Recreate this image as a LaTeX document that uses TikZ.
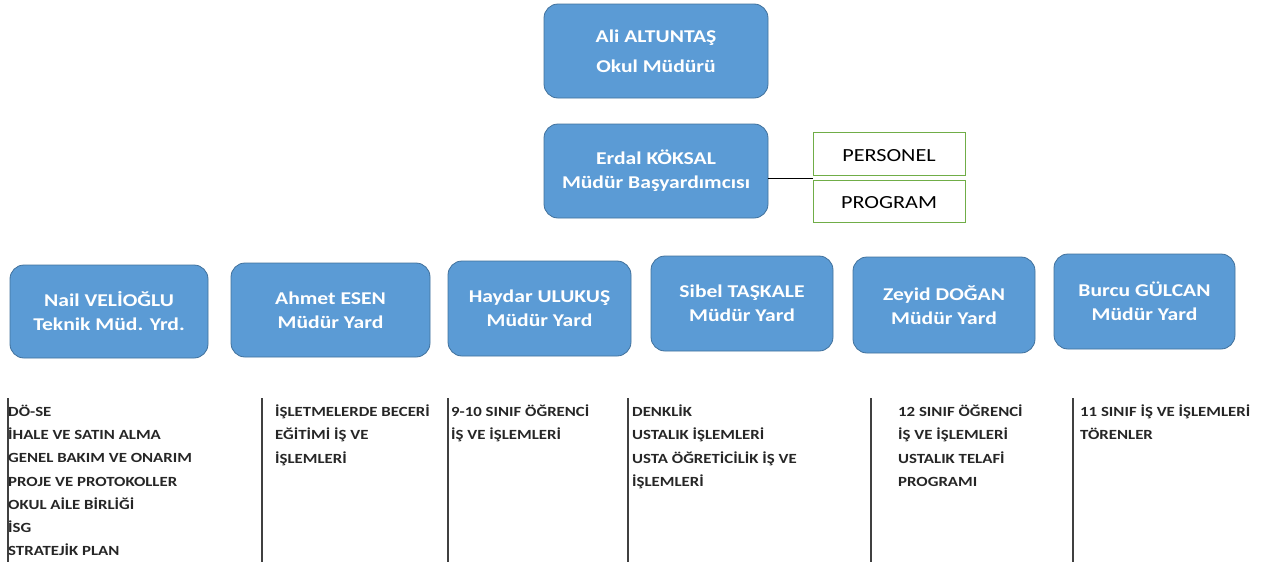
\documentclass[tikz,border=0pt]{standalone}
\usepackage{fontspec}
\setmainfont{Carlito}[FakeStretch=1.2]
\definecolor{boxfill}{HTML}{5B9BD5}
\definecolor{boxborder}{HTML}{41719C}
\definecolor{taggreen}{HTML}{70AD47}
\definecolor{listtext}{HTML}{262626}
\begin{document}
\begin{tikzpicture}[x=1pt,y=-1pt,
  box/.style={draw=boxborder, fill=boxfill, rounded corners=14pt, line width=0.8pt,
    text=white, font=\bfseries\fontsize{18}{24}\selectfont, align=center, inner sep=0pt},
  tag/.style={draw=taggreen, line width=1pt, font=\fontsize{18.5}{20}\selectfont,
    text=black, minimum width=152pt, minimum height=43pt, inner sep=0pt, text height=16pt},
  list/.style={anchor=north west, align=left, font=\bfseries\fontsize{14}{23.3}\selectfont,
    inner sep=0pt, text=listtext},
  sep/.style={draw=black!75, line width=1.2pt},
  link/.style={draw=black, line width=1pt}]
\useasboundingbox (0,0) rectangle (1263,565);

% top
\node[box, minimum width=224pt, minimum height=94pt, font=\bfseries\fontsize{18}{30}\selectfont] (ali) at (656,51) {Ali ALTUNTAŞ\\Okul Müdürü};
\node[box, minimum width=224pt, minimum height=94pt] (erdal) at (656,171) {Erdal KÖKSAL\\Müdür Başyardımcısı};
\node[tag] (personel) at (889,153.5) {PERSONEL};
\node[tag, minimum height=42pt] (program) at (889,201) {PROGRAM};
\coordinate (junction) at (813,178);
\draw[link] (erdal.east |- junction) -- (junction);

% second row
\node[box, minimum width=198pt, minimum height=93pt] (nail) at (109,311.5) {Nail VELİOĞLU\\Teknik Müd. Yrd.};
\node[box, minimum width=199pt, minimum height=94pt] (ahmet) at (330.5,310) {Ahmet ESEN\\Müdür Yard};
\node[box, minimum width=183pt, minimum height=95pt] (haydar) at (539.5,308.5) {Haydar ULUKUŞ\\Müdür Yard};
\node[box, minimum width=182pt, minimum height=95pt] (sibel) at (742,303.5) {Sibel TAŞKALE\\Müdür Yard};
\node[box, minimum width=182pt, minimum height=96pt] (zeyid) at (944,305) {Zeyid DOĞAN\\Müdür Yard};
\node[box, minimum width=181pt, minimum height=95pt] (burcu) at (1144.5,301.5) {Burcu GÜLCAN\\Müdür Yard};

% separators
\foreach \n/\x in {a/8, b/262, c/448, d/628, e/871, f/1073}{
  \coordinate (s\n top) at (\x,398);
  \coordinate (s\n bot) at (\x,562);
  \draw[sep] (s\n top) -- (s\n bot);
}

% lists
\node[list] (l1) at (8,404.5) {DÖ-SE\\İHALE VE SATIN ALMA\\GENEL BAKIM VE ONARIM\\PROJE VE PROTOKOLLER\\OKUL AİLE BİRLİĞİ\\İSG\\STRATEJİK PLAN};
\node[list] (l2) at (275,404.5) {İŞLETMELERDE BECERİ\\EĞİTİMİ İŞ VE\\İŞLEMLERİ};
\node[list] (l3) at (451,404.5) {9-10 SINIF ÖĞRENCİ\\İŞ VE İŞLEMLERİ};
\node[list] (l4) at (632,404.5) {DENKLİK\\USTALIK İŞLEMLERİ\\USTA ÖĞRETİCİLİK İŞ VE\\İŞLEMLERİ};
\node[list] (l5) at (898,404.5) {12 SINIF ÖĞRENCİ\\İŞ VE İŞLEMLERİ\\USTALIK TELAFİ\\PROGRAMI};
\node[list] (l6) at (1080,404.5) {11 SINIF İŞ VE İŞLEMLERİ\\TÖRENLER};
\end{tikzpicture}
\end{document}
